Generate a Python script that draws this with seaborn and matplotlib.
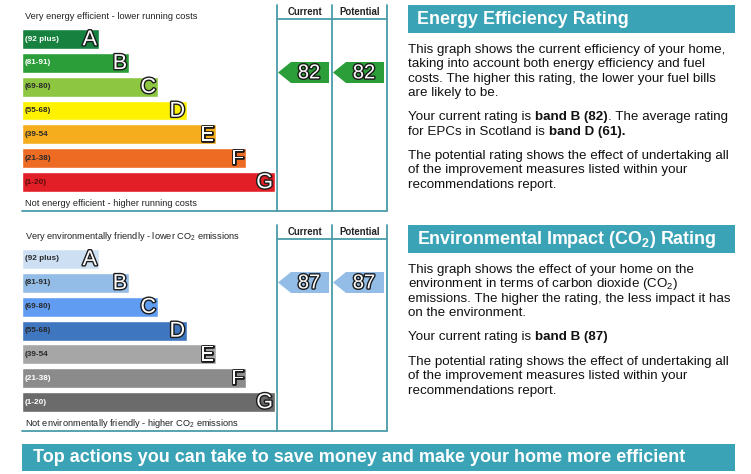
import numpy as np
import matplotlib
matplotlib.use("Agg")
import matplotlib.pyplot as plt
import matplotlib.patheffects as pe
from matplotlib.patches import Polygon, Rectangle
import pandas as pd
import seaborn as sns

# band data
bands = ["A", "B", "C", "D", "E", "F", "G"]
band_ranges = ["(92 plus)", "(81-91)", "(69-80)", "(55-68)", "(39-54", "(21-38)", "(1-20)"]
band_length = [77, 107, 136, 165, 194, 224, 253]

energy_colors = ["#17823f", "#2b9e3a", "#8dc641", "#fff200", "#f6ad1d", "#ee6b24", "#e21f26"]
energy_label_colors = ["white", "white", "#2a2a2a", "#2a2a2a", "#2a2a2a", "#2a2a2a", "#5a0d0d"]
env_colors = ["#cde0f3", "#93bde6", "#609df2", "#3f76c0", "#a6a6a6", "#8b8b8b", "#6b6b6b"]
env_label_colors = ["#2a2a2a", "#2a2a2a", "#2a2a2a", "#2a2a2a", "#2a2a2a", "white", "white"]

energy_current, energy_potential = 82, 82
env_current, env_potential = 87, 87

TEAL = "#3ba3b6"
LINE = "#4a9ca8"
W, H = 751, 474

sns.set_theme(style="white")
plt.rcParams["font.family"] = ["Liberation Sans", "DejaVu Sans"]
plt.rcParams["mathtext.fontset"] = "custom"
plt.rcParams["mathtext.rm"] = "Liberation Sans"
plt.rcParams["mathtext.bf"] = "Liberation Sans:bold"
plt.rcParams["mathtext.default"] = "regular"

fig = plt.figure(figsize=(W / 100, H / 100), dpi=100)
bg = fig.add_axes([0, 0, 1, 1])
bg.set_xlim(0, W)
bg.set_ylim(H, 0)
bg.axis("off")


def px_axes(x0, y0, x1, y1):
    # axes placed by pixel box (top-left origin)
    return fig.add_axes([x0 / W, 1 - y1 / H, (x1 - x0) / W, (y1 - y0) / H])


outline = [pe.withStroke(linewidth=2.0, foreground="#1a1a1a")]


def rating_chart(dy, colors, label_colors, current, potential, top_text, bottom_text):
    # frame lines
    for x in (277, 332, 387):
        bg.plot([x, x], [5 + dy, 211 + dy], color=LINE, lw=1.3)
    bg.plot([277, 387], [19 + dy, 19 + dy], color=LINE, lw=1.3)
    bg.plot([22, 387], [211 + dy, 211 + dy], color=LINE, lw=1.3)
    bg.text(304.5, 12 + dy, "Current", ha="center", va="center", fontsize=6.9, fontweight="bold", color="#222")
    bg.text(359.5, 12 + dy, "Potential", ha="center", va="center", fontsize=6.9, fontweight="bold", color="#222")
    bg.text(25, 16.5 + dy, top_text, ha="left", va="center", fontsize=6.7, color="#222")
    bg.text(25, 204 + dy, bottom_text, ha="left", va="center", fontsize=6.7, color="#222")

    # bars
    pitch = (182 - 39) / 6
    ax = px_axes(22, 39 - pitch / 2 + dy, 277, 182 + pitch / 2 + dy)
    df = pd.DataFrame({"band": bands, "length": band_length})
    sns.barplot(data=df, x="length", y="band", hue="band", palette=colors,
                legend=False, width=20 / pitch, saturation=1, ax=ax)
    ax.set_xlim(0, 255)
    ax.set_ylim(6.5, -0.5)
    ax.axis("off")
    for i, (b, r, ln) in enumerate(zip(bands, band_ranges, band_length)):
        ax.text(3, i, r, ha="left", va="center", fontsize=5.9, fontweight="bold", color=label_colors[i])
        ax.text(ln - 2, i + 0.03, b, ha="right", va="center", fontsize=15.5, color="white", path_effects=outline)

    # rating arrows, y axis in rating units
    ar = px_axes(277, 5 + dy, 387, 211 + dy)
    ar.set_xlim(0, 110)
    ar.set_ylim((236.5 - 211) / 2, (236.5 - 5) / 2)
    ar.axis("off")
    ar.patch.set_alpha(0)
    half = 5.25
    arrow_color = colors[1]
    for x0, val in ((1, current), (56, potential)):
        verts = [(x0, val), (x0 + 13, val + half), (x0 + 51, val + half),
                 (x0 + 51, val - half), (x0 + 13, val - half)]
        ar.add_patch(Polygon(verts, closed=True, facecolor=arrow_color, edgecolor="none"))
        ar.text(x0 + 31, val - 0.2, str(val), ha="center", va="center", fontsize=14.5,
                color="white", path_effects=outline)


rating_chart(0, energy_colors, energy_label_colors, energy_current, energy_potential,
             "Very energy efficient - lower running costs",
             "Not energy efficient - higher running costs")
rating_chart(220, env_colors, env_label_colors, env_current, env_potential,
             "Very environmentally friendly - lower CO$_2$ emissions",
             "Not environmentally friendly - higher CO$_2$ emissions")

# right-hand panels
def banner(x0, y0, x1, y1, text, tx, size):
    bg.add_patch(Rectangle((x0, y0), x1 - x0, y1 - y0, facecolor=TEAL, edgecolor="none"))
    bg.text(tx, (y0 + y1) / 2 + 0.5, text, ha="left", va="center", fontsize=size,
            fontweight="bold", color="white")


banner(408, 5, 735, 33, "Energy Efficiency Rating", 417, 12.9)
banner(408, 225, 735, 253, "Environmental Impact (CO$_2$) Rating", 417, 12.9)
banner(22, 444, 735, 471, "Top actions you can take to save money and make your home more efficient", 33, 12.95)

para_size = 9.6
# each line: list of (text, bold) pieces
lines_top = [
    (48, [("This graph shows the current efficiency of your home,", False)]),
    (62.5, [("taking into account both energy efficiency and fuel", False)]),
    (77, [("costs. The higher this rating, the lower your fuel bills", False)]),
    (91.5, [("are likely to be.", False)]),
    (115.5, [("Your current rating is ", False), ("band B (82)", True), (". The average rating", False)]),
    (130, [("for EPCs in Scotland is ", False), ("band D (61).", True)]),
    (154, [("The potential rating shows the effect of undertaking all", False)]),
    (168.5, [("of the improvement measures listed within your", False)]),
    (183, [("recommendations report.", False)]),
]
lines_bottom = [
    (268, [("This graph shows the effect of your home on the", False)]),
    (282.5, [("environment in terms of carbon dioxide (CO$_2$)", False)]),
    (297, [("emissions. The higher the rating, the less impact it has", False)]),
    (311.5, [("on the environment.", False)]),
    (335.5, [("Your current rating is ", False), ("band B (87)", True)]),
    (360, [("The potential rating shows the effect of undertaking all", False)]),
    (374.5, [("of the improvement measures listed within your", False)]),
    (389, [("recommendations report.", False)]),
]
for y, pieces in lines_top + lines_bottom:
    prev = None
    for txt, bold in pieces:
        kw = dict(fontsize=para_size, color="#111", fontweight="bold" if bold else "normal", ha="left")
        if prev is None:
            prev = bg.text(408, y + 4.7, txt, va="baseline", **kw)
        else:
            prev = bg.annotate(txt, xy=(1, 0), xycoords=prev, va="bottom", **kw)

fig.savefig("out.png", dpi=100, facecolor="white")
